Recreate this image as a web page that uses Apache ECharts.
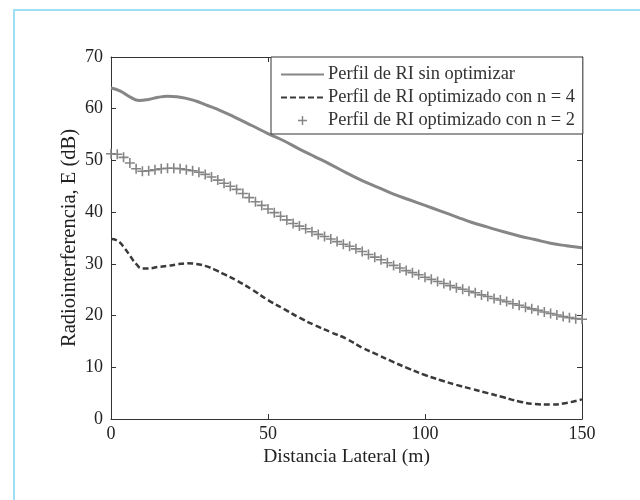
<!DOCTYPE html>
<html>
<head>
<meta charset="utf-8">
<script src="https://cdn.jsdelivr.net/npm/echarts@6/dist/echarts.min.js"></script>
<style>
  html, body { margin: 0; padding: 0; background: #fff; }
  #frame { position: absolute; left: 13px; top: 9px; width: 627px; height: 491px;
           border-top: 2px solid #9fdff5; border-left: 2px solid #9fdff5; box-sizing: border-box; }
  #chart { position: absolute; left: 0; top: 0; width: 640px; height: 500px; }
</style>
</head>
<body>
<div id="frame"></div>
<div id="chart"></div>
<script>
// Perfil de RI sin optimizar
var xSin = [0, 3, 6, 9, 12, 15, 18, 21, 24, 27, 30, 35, 40, 45, 50, 55, 60, 65, 70, 75,
  80, 85, 90, 95, 100, 105, 110, 115, 120, 125, 130, 135, 140, 145, 150];
var ySin = [64.0, 63.4, 62.3, 61.6, 61.8, 62.2, 62.4, 62.3, 62.0, 61.5, 60.8, 59.6, 58.2, 56.7, 55.2,
  53.8, 52.2, 50.7, 49.2, 47.6, 46.1, 44.8, 43.5, 42.4, 41.3, 40.2, 39.1, 38.0, 37.1, 36.2,
  35.4, 34.7, 34.0, 33.5, 33.1];

// Perfil de RI optimizado con n = 4
var xN4 = [0, 2, 4, 6, 8, 10, 12, 15, 18, 21, 24, 27, 30, 33, 36, 40, 45, 50, 55, 60,
  65, 70, 75, 80, 85, 90, 95, 100, 105, 110, 115, 120, 125, 130, 135, 140, 145, 150];
var yN4 = [34.8, 34.5, 33.3, 31.6, 30.0, 29.1, 29.1, 29.4, 29.6, 29.9, 30.1, 30.0, 29.6, 28.9, 28.0,
  26.8, 25.0, 23.0, 21.3, 19.6, 18.1, 16.8, 15.5, 13.8, 12.4, 11.0, 9.7, 8.5, 7.5, 6.6,
  5.8, 5.0, 4.2, 3.4, 2.9, 2.8, 3.1, 3.8];

// Perfil de RI optimizado con n = 2 (cada 2 m)
var xN2 = [];
for (var i = 0; i <= 150; i += 2) xN2.push(i);
var yN2 = [51.3, 51.2, 50.6, 49.5, 48.4, 47.9, 48.0, 48.2, 48.4, 48.5,
  48.5, 48.4, 48.2, 48.0, 47.7, 47.3, 46.8, 46.2, 45.6, 45.0,
  44.4, 43.6, 42.8, 42.0, 41.3, 40.6, 39.9, 39.2, 38.5, 37.8,
  37.3, 36.8, 36.2, 35.7, 35.3, 34.8, 34.3, 33.8, 33.4, 32.9,
  32.4, 31.8, 31.3, 30.8, 30.2, 29.7, 29.2, 28.7, 28.3, 27.9,
  27.4, 27.0, 26.6, 26.2, 25.8, 25.4, 25.1, 24.7, 24.4, 24.0,
  23.7, 23.3, 23.0, 22.7, 22.3, 22.0, 21.6, 21.3, 21.0, 20.7,
  20.4, 20.1, 19.8, 19.6, 19.4, 19.3];

var names = ['Perfil de RI sin optimizar', 'Perfil de RI optimizado con n = 4', 'Perfil de RI optimizado con n = 2'];
var xTicks = { min: 0, max: 150, interval: 50 };
var yTicks = { min: 0, max: 70, interval: 10 };

function pairs(xs, ys) {
  return xs.map(function (x, k) { return [x, ys[k]]; });
}

var plusPath = 'path://M4.2,0H5.8V4.2H10V5.8H5.8V10H4.2V5.8H0V4.2H4.2Z';
var serif = 'Liberation Serif';
var ink = '#222';

var axisCommon = {
  axisLine: { onZero: false, lineStyle: { color: '#333', width: 1 } },
  axisTick: { inside: true, length: 5, lineStyle: { color: '#333' } },
  splitLine: { show: false }
};

var myChart = echarts.init(document.getElementById('chart'), null, { renderer: 'canvas' });
myChart.setOption({
  backgroundColor: 'transparent',
  animation: false,
  grid: { left: 111, top: 57, width: 471, height: 362 },
  legend: {
    orient: 'vertical',
    left: 271, top: 57,
    padding: [7, 8, 3, 9],
    itemWidth: 43, itemHeight: 9, itemGap: 2,
    backgroundColor: '#fff',
    borderColor: '#333', borderWidth: 1, borderRadius: 0,
    textStyle: { fontFamily: serif, fontSize: 18.4, color: '#333', lineHeight: 21, padding: [0, 0, 0, -1] },
    data: [
      { name: names[0], itemStyle: { opacity: 0 } },
      { name: names[1], itemStyle: { opacity: 0 } },
      { name: names[2], icon: plusPath }
    ]
  },
  xAxis: [
    Object.assign({
      type: 'value', position: 'bottom',
      min: xTicks.min, max: xTicks.max, interval: xTicks.interval,
      name: 'Distancia Lateral (m)', nameLocation: 'middle', nameGap: 28, nameMoveOverlap: false,
      nameTextStyle: { fontFamily: serif, fontSize: 19.5, color: ink },
      axisLabel: { fontFamily: serif, fontSize: 18, color: ink, margin: 6 }
    }, axisCommon),
    Object.assign({
      type: 'value', position: 'top',
      min: xTicks.min, max: xTicks.max, interval: xTicks.interval,
      axisLabel: { show: false }
    }, axisCommon)
  ],
  yAxis: [
    Object.assign({
      type: 'value', position: 'left',
      min: yTicks.min, max: yTicks.max, interval: yTicks.interval,
      name: 'Radiointerferencia, E (dB)', nameLocation: 'middle', nameGap: 31, nameMoveOverlap: false,
      nameTextStyle: { fontFamily: serif, fontSize: 20.5, color: ink },
      axisLabel: { fontFamily: serif, fontSize: 18, color: ink, margin: 8 }
    }, axisCommon),
    Object.assign({
      type: 'value', position: 'right',
      min: yTicks.min, max: yTicks.max, interval: yTicks.interval,
      axisLabel: { show: false }
    }, axisCommon)
  ],
  series: [
    {
      name: names[0], type: 'line', smooth: true,
      showSymbol: false, symbol: 'none',
      lineStyle: { color: '#868686', width: 3 },
      itemStyle: { color: '#868686' },
      data: pairs(xSin, ySin)
    },
    {
      name: names[1], type: 'line', smooth: true,
      showSymbol: false, symbol: 'none',
      lineStyle: { color: '#3a3a3a', width: 2.5, type: [6, 3] },
      itemStyle: { color: '#3a3a3a' },
      data: pairs(xN4, yN4)
    },
    {
      name: names[2], type: 'line',
      symbol: plusPath, symbolSize: 10, showSymbol: true,
      lineStyle: { width: 0, opacity: 0 },
      itemStyle: { color: '#858585' },
      data: pairs(xN2, yN2)
    }
  ]
});
</script>
</body>
</html>
